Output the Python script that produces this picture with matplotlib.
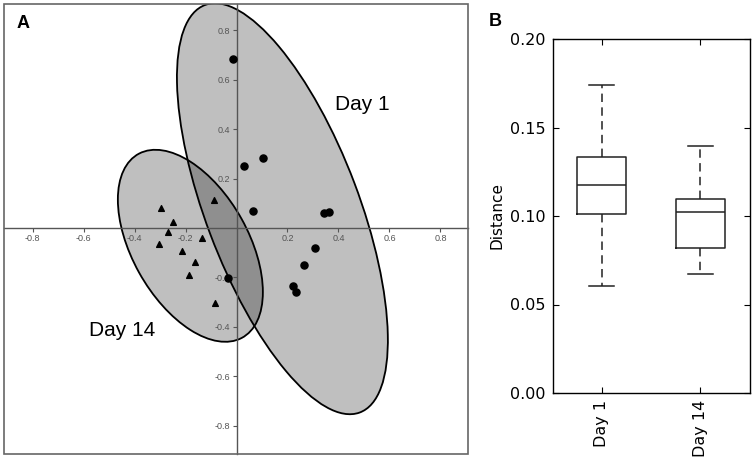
import numpy as np
import matplotlib
matplotlib.use("Agg")
import matplotlib.pyplot as plt
from matplotlib.patches import Ellipse, Rectangle

# Panel A: ordination scores
day1_x = [-0.012, 0.028, 0.105, 0.064, 0.342, 0.361, 0.308, 0.266, 0.222, 0.235, -0.032]
day1_y = [0.686, 0.250, 0.284, 0.069, 0.062, 0.066, -0.082, -0.148, -0.234, -0.261, -0.202]
day14_x = [-0.297, -0.251, -0.270, -0.303, -0.214, -0.135, -0.089, -0.163, -0.186, -0.084]
day14_y = [0.080, 0.026, -0.017, -0.066, -0.092, -0.042, 0.113, -0.136, -0.189, -0.304]

# ellipses: centre x, centre y, width, height, angle
ell_day1 = [0.180, 0.078, 1.758, 0.602, 110.1]
ell_day14 = [-0.181, -0.072, 0.848, 0.457, 118.3]

ticks_a = [-0.8, -0.6, -0.4, -0.2, 0.2, 0.4, 0.6, 0.8]
group_labels = ["Day 1", "Day 14"]

# Panel B: box plot summaries
whis_lo = [0.0605, 0.0671]
q1 = [0.1013, 0.0818]
med = [0.1173, 0.1024]
q3 = [0.1335, 0.1098]
whis_hi = [0.1739, 0.1397]


fig = plt.figure(figsize=(7.54, 4.59), dpi=100)

# ---- A ----
ax = fig.add_axes([4 / 754, 5 / 459, 464 / 754, 450 / 459])
ax.set_xlim(-0.912, 0.908)
ax.set_ylim(-0.915, 0.907)

for e in [ell_day1, ell_day14]:
    ax.add_patch(Ellipse((e[0], e[1]), e[2], e[3], angle=e[4],
                         facecolor="black", alpha=0.25, edgecolor="none", zorder=1))
    ax.add_patch(Ellipse((e[0], e[1]), e[2], e[3], angle=e[4],
                         facecolor="none", edgecolor="black", lw=1.3, zorder=2))

ax.scatter(day1_x, day1_y, s=26, marker="o", color="black", zorder=4)
ax.scatter(day14_x, day14_y, s=17, marker="^", color="black", zorder=4)

for side in ["top", "right"]:
    ax.spines[side].set_visible(False)
for side in ["left", "bottom"]:
    ax.spines[side].set_position("zero")
    ax.spines[side].set_color("#555555")
    ax.spines[side].set_linewidth(1.0)
ax.add_patch(Rectangle((0, 0), 1, 1, transform=ax.transAxes, fill=False,
                       edgecolor="#666666", lw=1.2, clip_on=False, zorder=5))

ax.set_xticks(ticks_a)
ax.set_yticks(ticks_a)
ax.set_xticklabels([f"{t:.1f}" for t in ticks_a])
ax.set_yticklabels([f"{t:.1f}" for t in ticks_a])
ax.tick_params(length=3, width=0.8, color="#555555", labelcolor="#555555",
               labelsize=6.5, pad=1.5)
for lab in ax.get_xticklabels() + ax.get_yticklabels():
    lab.set_family("Liberation Sans")

ax.text(0.493, 0.502, group_labels[0], fontsize=15, family="Liberation Sans",
        ha="center", va="center")
ax.text(-0.450, -0.416, group_labels[1], fontsize=15, family="Liberation Sans",
        ha="center", va="center")
fig.text(23 / 754, 1 - 24 / 459, "A", fontsize=13, fontweight="bold",
         family="Liberation Sans", ha="center", va="center")

# ---- B ----
bx = fig.add_axes([552.5 / 754, 66 / 459, 197 / 754, 354 / 459])
stats = []
for i in range(len(group_labels)):
    stats.append({"label": group_labels[i], "whislo": whis_lo[i], "q1": q1[i],
                  "med": med[i], "q3": q3[i], "whishi": whis_hi[i], "fliers": []})
line = dict(color="#222222", lw=1.1)
bx.bxp(stats, positions=[1, 2], widths=0.5, showfliers=False,
       boxprops=line, medianprops=line, capprops=line,
       whiskerprops=dict(color="#222222", lw=1.1, linestyle=(0, (5.5, 3.5))))
bx.set_xlim(0.5, 2.5)
bx.set_ylim(0, 0.2)
bx.set_yticks([0, 0.05, 0.10, 0.15, 0.20])
bx.set_yticklabels(["0.00", "0.05", "0.10", "0.15", "0.20"])
bx.set_xticklabels(group_labels, rotation=90)
bx.tick_params(direction="in", top=True, right=True, length=4, width=0.8,
               labelsize=11.5, pad=5)
bx.set_ylabel("Distance", fontsize=11)
for s in bx.spines.values():
    s.set_linewidth(1.0)
fig.text(495 / 754, 1 - 22 / 459, "B", fontsize=13, fontweight="bold",
         family="Liberation Sans", ha="center", va="center")

fig.savefig("out.png", dpi=100)
